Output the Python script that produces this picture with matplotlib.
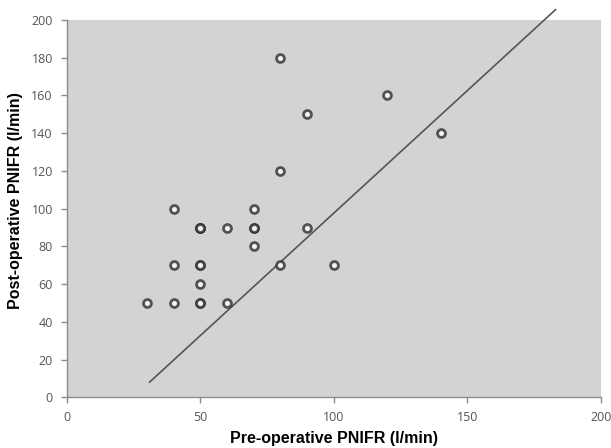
import matplotlib
matplotlib.use("Agg")
import matplotlib.pyplot as plt

# Data (duplicates appear darker in the original)
pre_op = [30, 40, 40, 40, 50, 50, 50, 50, 50, 50, 50, 50, 60, 60, 70, 70, 70, 70, 80, 80, 80, 90, 90, 100, 120, 140]
post_op = [50, 50, 70, 100, 50, 50, 60, 70, 70, 90, 90, 90, 50, 90, 80, 90, 90, 100, 70, 120, 180, 90, 150, 70, 160, 140]

line_x = [31, 183]
line_y = [8, 205.5]

x_ticks = [0, 50, 100, 150, 200]
y_ticks = [0, 20, 40, 60, 80, 100, 120, 140, 160, 180, 200]

W, H = 611, 448
L, R, T, B = 66.7, 601, 20, 397.3

fig = plt.figure(figsize=(W / 100, H / 100), dpi=100)
ax = fig.add_axes([L / W, 1 - B / H, (R - L) / W, (B - T) / H])
ax.set_facecolor("#d3d3d3")

ax.plot(line_x, line_y, color="#555555", lw=1.2, clip_on=False, zorder=2)
ax.scatter(pre_op, post_op, s=32, facecolors="#f4f4f4", edgecolors=(0.18, 0.18, 0.18, 0.8),
           linewidths=2.0, zorder=3)

ax.set_xlim(0, 200)
ax.set_ylim(0, 200)
ax.set_xticks(x_ticks)
ax.set_yticks(y_ticks)
ax.set_xticklabels([str(t) for t in x_ticks])
ax.set_yticklabels([str(t) for t in y_ticks])

for s in ["top", "right"]:
    ax.spines[s].set_visible(False)
for s in ["left", "bottom"]:
    ax.spines[s].set_color("#8c8c8c")
    ax.spines[s].set_linewidth(1.0)

ax.tick_params(axis="both", direction="out", length=4, width=1.0, color="#8c8c8c",
               labelcolor="#555555", labelsize=9, pad=6)
for lab in ax.get_xticklabels() + ax.get_yticklabels():
    lab.set_family(["Open Sans", "DejaVu Sans"])

ax.set_xlabel("Pre-operative PNIFR (l/min)", fontsize=11.5, fontweight="bold",
              family=["Liberation Sans", "DejaVu Sans"], labelpad=5)
ax.set_ylabel("Post-operative PNIFR (l/min)", fontsize=11.5, fontweight="bold",
              family=["Liberation Sans", "DejaVu Sans"])
ax.yaxis.set_label_coords((23 - L) / (R - L), (B - 201) / (B - T))

fig.savefig("out.png", dpi=100)
